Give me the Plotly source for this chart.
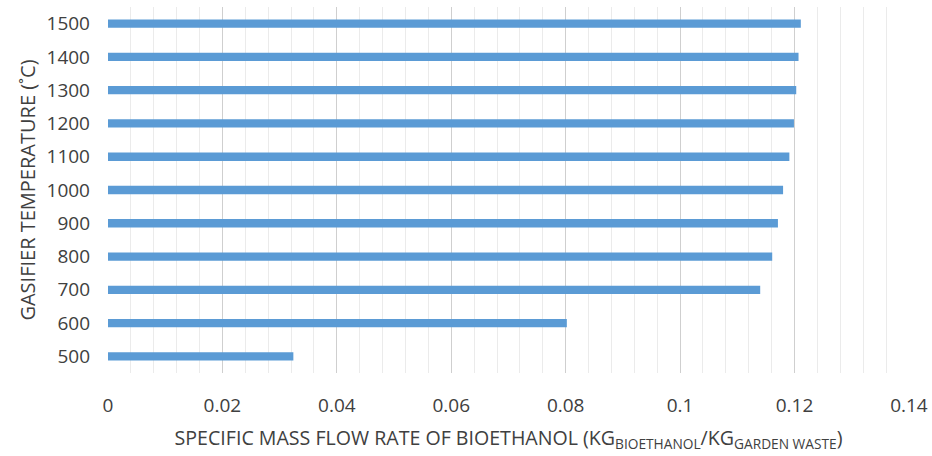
import plotly.graph_objects as go

temperatures = ["500", "600", "700", "800", "900", "1000", "1100", "1200", "1300", "1400", "1500"]
flow_rate = [0.0324, 0.0802, 0.1140, 0.1161, 0.1171, 0.1180, 0.1191, 0.1199, 0.1203, 0.1207, 0.1211]

font_family = "'Open Sans', sans-serif"
text_color = "#404040"

fig = go.Figure(go.Bar(
    x=flow_rate,
    y=temperatures,
    orientation="h",
    marker=dict(color="#5B9BD5", line=dict(width=0)),
    width=0.25,
    hoverinfo="skip",
))

fig.update_layout(
    width=932, height=456,
    margin=dict(l=108, r=23, t=7, b=83),
    paper_bgcolor="white", plot_bgcolor="white",
    font=dict(family=font_family, color=text_color, size=19),
    showlegend=False,
    hovermode=False,
)

fig.update_xaxes(
    range=[0, 0.14001],
    tickmode="linear", tick0=0, dtick=0.02,
    showgrid=True, gridcolor="#cfcfcf", gridwidth=1,
    minor=dict(dtick=0.004, tick0=0, showgrid=True, gridcolor="#ebebeb", gridwidth=1),
    zeroline=False, showline=False,
    ticks="", ticklabelstandoff=19,
    ticklabeloverflow="allow",
    tickfont=dict(size=19, color=text_color),
    automargin=False,
    title=dict(
        text="SPECIFIC MASS FLOW RATE OF BIOETHANOL (KG<sub>BIOETHANOL</sub>/KG<sub>GARDEN WASTE</sub>)",
        font=dict(size=19.6, color=text_color),
        standoff=14,
    ),
)

fig.update_yaxes(
    type="category",
    categoryorder="array", categoryarray=temperatures,
    showgrid=False, zeroline=False, showline=False,
    ticks="", ticklabelstandoff=17,
    tickfont=dict(size=19, color=text_color),
    automargin=False,
    title=dict(
        text="GASIFIER TEMPERATURE (˚C)",
        font=dict(size=20, color=text_color),
        standoff=5,
    ),
)

fig.write_html(
    "out.html",
    config={"displayModeBar": False, "staticPlot": True},
    post_script="document.body.style.margin='0';document.body.style.overflow='hidden';",
)
